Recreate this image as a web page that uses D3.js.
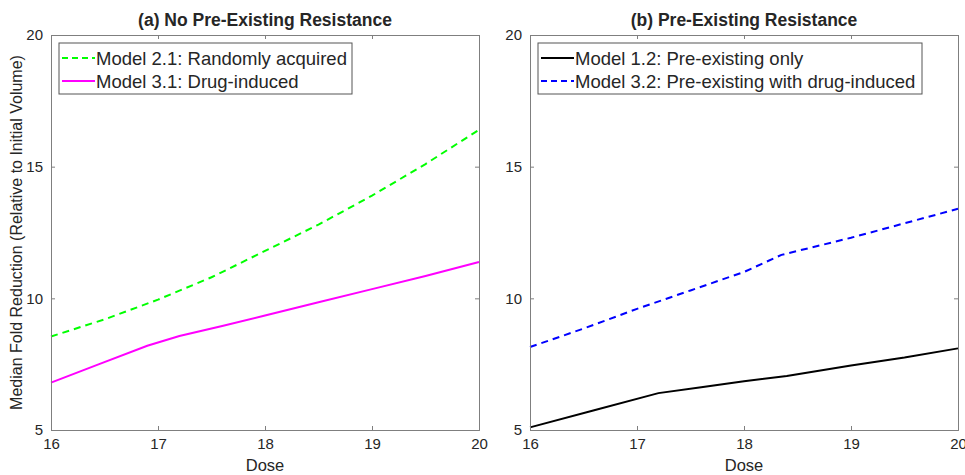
<!DOCTYPE html>
<meta charset="utf-8">
<script src="https://d3js.org/d3.v7.min.js"></script>
<style>
  body { margin: 0; background: #fff; }
  text { font-family: "Liberation Sans", Arial, sans-serif; fill: #262626; }
</style>
<div id="chart"></div>
<script>
// values
var doseTicks = [16, 17, 18, 19, 20];
var foldTicks = [5, 10, 15, 20];

// panel (a)
var doseA21 = [16, 16.5, 17, 17.5, 18, 18.5, 19, 19.5, 20];
var model21 = [8.55, 9.2, 9.95, 10.8, 11.8, 12.8, 13.9, 15.1, 16.4];
var doseA31 = [16, 16.45, 16.9, 17.2, 17.6, 18, 18.5, 19, 19.5, 20];
var model31 = [6.8, 7.5, 8.2, 8.57, 8.95, 9.35, 9.85, 10.35, 10.85, 11.38];

// panel (b)
var doseB12 = [16, 16.6, 17.2, 17.6, 18, 18.4, 19, 19.5, 20];
var model12 = [5.1, 5.75, 6.4, 6.62, 6.85, 7.05, 7.45, 7.75, 8.1];
var doseB32 = [16, 16.5, 17, 17.5, 18, 18.35, 19, 19.5, 20];
var model32 = [8.15, 8.85, 9.6, 10.3, 11.0, 11.65, 12.3, 12.85, 13.4];

var panels = [
  { left: 51, title: "(a) No Pre-Existing Resistance", legendW: 293,
    series: [
      { name: "Model 2.1: Randomly acquired", x: doseA21, y: model21, color: "#00ff00", dash: "7,5" },
      { name: "Model 3.1: Drug-induced", x: doseA31, y: model31, color: "#ff00ff", dash: null }
    ] },
  { left: 530, title: "(b) Pre-Existing Resistance", legendW: 384,
    series: [
      { name: "Model 1.2: Pre-existing only", x: doseB12, y: model12, color: "#000000", dash: null },
      { name: "Model 3.2: Pre-existing with drug-induced", x: doseB32, y: model32, color: "#0000ff", dash: "7,5" }
    ] }
];

var W = 965, H = 475;
var plotTop = 35, plotBottom = 430, pw = 428;

var svg = d3.select("#chart").append("svg")
  .attr("width", W).attr("height", H);

panels.forEach(function (p) {
  var x = d3.scaleLinear().domain([16, 20]).range([p.left, p.left + pw]);
  var y = d3.scaleLinear().domain([5, 20]).range([plotBottom, plotTop]);
  var g = svg.append("g");

  // lines
  p.series.forEach(function (s) {
    var pts = s.x.map(function (d, i) { return [d, s.y[i]]; });
    g.append("path")
      .datum(pts)
      .attr("fill", "none")
      .attr("stroke", s.color)
      .attr("stroke-width", 2)
      .attr("stroke-dasharray", s.dash)
      .attr("d", d3.line().x(function (d) { return x(d[0]); }).y(function (d) { return y(d[1]); }));
  });

  // axes (box with ticks on all sides, matlab style)
  var ax = [
    g.append("g").attr("transform", "translate(0," + plotBottom + ")")
      .call(d3.axisBottom(x).tickValues(doseTicks).tickFormat(d3.format("d")).tickSize(-4).tickPadding(8)),
    g.append("g").attr("transform", "translate(0," + plotTop + ")")
      .call(d3.axisTop(x).tickValues(doseTicks).tickSize(-4).tickFormat("")),
    g.append("g").attr("transform", "translate(" + p.left + ",0)")
      .call(d3.axisLeft(y).tickValues(foldTicks).tickFormat(d3.format("d")).tickSize(-4).tickPadding(8)),
    g.append("g").attr("transform", "translate(" + (p.left + pw) + ",0)")
      .call(d3.axisRight(y).tickValues(foldTicks).tickSize(-4).tickFormat(""))
  ];
  ax.forEach(function (a) {
    a.attr("font-family", null).attr("font-size", null);
    a.selectAll("path").attr("stroke", "#7f7f7f");
    a.selectAll("line").attr("stroke", "#7f7f7f");
    a.selectAll("text").style("font-size", "15px").attr("fill", "#262626");
  });

  // title
  svg.append("text")
    .attr("x", p.left + pw / 2).attr("y", 26)
    .attr("text-anchor", "middle")
    .style("font-size", "17.5px").style("font-weight", "bold")
    .text(p.title);

  // x label
  svg.append("text")
    .attr("x", p.left + pw / 2).attr("y", 471)
    .attr("text-anchor", "middle")
    .style("font-size", "16.5px")
    .text("Dose");

  // legend
  var lg = svg.append("g").attr("transform", "translate(" + (p.left + 8) + ",43)");
  lg.append("rect")
    .attr("width", p.legendW).attr("height", 51)
    .attr("fill", "#fff").attr("stroke", "#555").attr("stroke-width", 1);
  p.series.forEach(function (s, i) {
    var yy = 15 + i * 23;
    lg.append("line")
      .attr("x1", 3).attr("x2", 36).attr("y1", yy).attr("y2", yy)
      .attr("stroke", s.color).attr("stroke-width", 2)
      .attr("stroke-dasharray", s.dash ? "6,4" : null);
    lg.append("text")
      .attr("x", 37).attr("y", yy + 6.5)
      .style("font-size", "18.5px")
      .text(s.name);
  });
});

// y label
svg.append("text")
  .attr("transform", "translate(22," + ((plotTop + plotBottom) / 2) + ") rotate(-90)")
  .attr("text-anchor", "middle")
  .style("font-size", "16px")
  .text("Median Fold Reduction (Relative to Initial Volume)");
</script>
